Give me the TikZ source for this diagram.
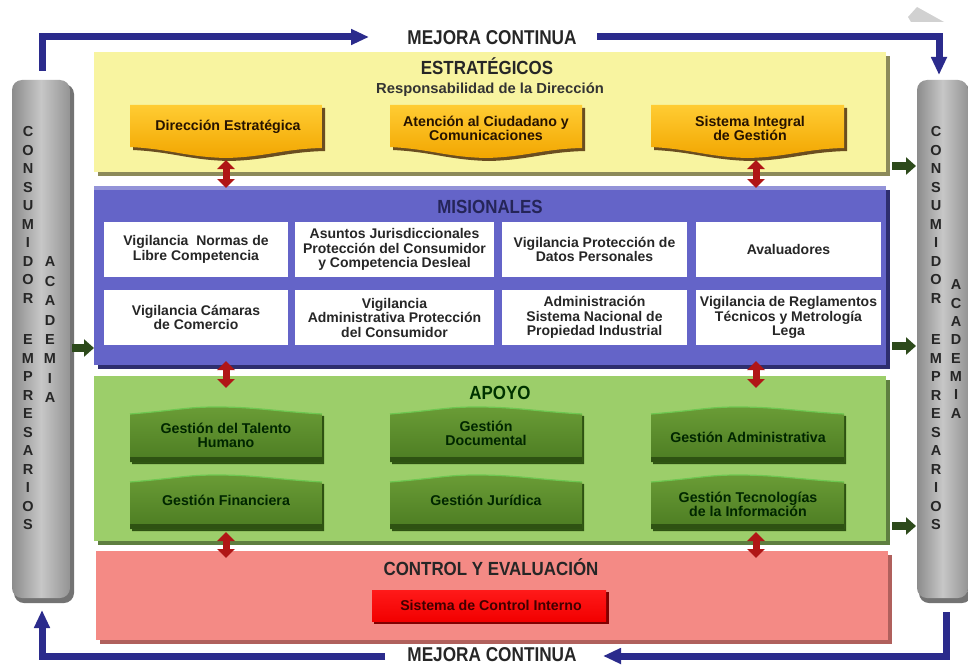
\documentclass[tikz,border=0pt]{standalone}
\usepackage{fontspec}
\setmainfont{Liberation Sans}
\usetikzlibrary{arrows.meta,shadows}
\definecolor{navyc}{HTML}{2B2B8C}
\definecolor{yelp}{HTML}{F8F4A0}
\definecolor{yelsh}{HTML}{8C8A5A}
\definecolor{bluep}{HTML}{6464C8}
\definecolor{bluesh}{HTML}{2E2E6E}
\definecolor{greenp}{HTML}{9CCE6A}
\definecolor{greensh}{HTML}{5E7E40}
\definecolor{pinkp}{HTML}{F48A85}
\definecolor{pinksh}{HTML}{B0605C}
\definecolor{dred}{HTML}{B01616}
\definecolor{darrow}{HTML}{2D4A1B}
\definecolor{orangeT}{HTML}{FFCC33}
\definecolor{orangeB}{HTML}{F2A600}
\definecolor{gbtnT}{HTML}{6A9C36}
\definecolor{gbtnB}{HTML}{4C7C22}
\definecolor{gbtnD}{HTML}{2E5212}
\newcommand\obtn[2]{%
  \fill[black!60!orange!70!black,opacity=.8,xshift=3pt,yshift=-3pt] (#1,105) -- (#2,105) -- (#2,148) .. controls ({#2-40},149) and ({(#1+#2)/2+40},157) .. ({(#1+#2)/2},158) .. controls ({(#1+#2)/2-40},157) and ({#1+40},149) .. (#1,147) -- cycle;
  \shade[top color=orangeT,bottom color=orangeB] (#1,105) -- (#2,105) -- (#2,148) .. controls ({#2-40},149) and ({(#1+#2)/2+40},157) .. ({(#1+#2)/2},158) .. controls ({(#1+#2)/2-40},157) and ({#1+40},149) .. (#1,147) -- cycle;}
\newcommand\gbtn[4]{%
  \fill[gbtnD,xshift=2pt,yshift=-2pt] (#1,#3) .. controls ({#1+50},{#3-4}) and ({(#1+#2)/2-40},{#3-7}) .. ({(#1+#2)/2-10},{#3-7}) .. controls ({(#1+#2)/2+30},{#3-7}) and ({#2-50},{#3-3}) .. (#2,#3) -- (#2,#4) -- (#1,#4) -- cycle;
  \shade[top color=gbtnT,bottom color=gbtnB] (#1,#3) .. controls ({#1+50},{#3-4}) and ({(#1+#2)/2-40},{#3-7}) .. ({(#1+#2)/2-10},{#3-7}) .. controls ({(#1+#2)/2+30},{#3-7}) and ({#2-50},{#3-3}) .. (#2,#3) -- (#2,#4) -- (#1,#4) -- cycle;
  \draw[green!30!gbtnT!80!white,line width=1.2pt] (#1,#3) .. controls ({#1+50},{#3-4}) and ({(#1+#2)/2-40},{#3-7}) .. ({(#1+#2)/2-10},{#3-7}) .. controls ({(#1+#2)/2+30},{#3-7}) and ({#2-50},{#3-3}) .. (#2,#3);
  \fill[gbtnD] (#1,{#4-5}) rectangle (#2,#4);}
\begin{document}
\begin{tikzpicture}[x=1pt,y=-1pt,
  navyline/.style={draw=navyc,line width=7pt,-{Triangle[width=15pt,length=18pt]}},
  redarr/.style={draw=dred,line width=7pt,{Triangle[width=17pt,length=9pt]}-{Triangle[width=17pt,length=9pt]}},
  grarr/.style={draw=darrow,line width=8pt,-{Triangle[width=17pt,length=10pt]}},
  panel/.style={rectangle,inner sep=0pt,minimum width=792pt},
  ttl/.style={font=\fontsize{19}{19}\selectfont\bfseries,inner sep=0pt},
  cell/.style={rectangle,fill=white,inner sep=0pt,minimum height=55pt,align=center,text=black!85,font=\fontsize{14}{14.5}\selectfont\bfseries},
  otext/.style={align=center,inner sep=0pt,text=black!70!orange!50!black,font=\fontsize{14.2}{14}\selectfont\bfseries},
  gtext/.style={align=center,inner sep=0pt,text=black!85!green,font=\fontsize{14.2}{14}\selectfont\bfseries},
  pl/.style={inner sep=0pt,text=black!85,font=\fontsize{14.5}{14.5}\selectfont\bfseries}]
\useasboundingbox (0,0) rectangle (968,666);
\fill[white] (0,0) rectangle (968,666);
% small grey artifact top right
\fill[black!18] (908,17) -- (917,7) -- (926,12) -- (944,22) -- (911,22) -- cycle;
% pillars
\fill[black!55,rounded corners=10pt] (14,84) rectangle (74,603);
\shade[left color=black!45,right color=black!42,middle color=black!22,rounded corners=10pt] (12,80) rectangle (70,598);
\fill[black!55,rounded corners=10pt] (919,84) rectangle (972,603);
\shade[left color=black!45,right color=black!42,middle color=black!22,rounded corners=10pt] (917,80) rectangle (968,598);
\foreach \l [count=\i from 0] in {C,O,N,S,U,M,I,D,O,R}{
  \node[pl] (lc\i) at (28,{132+18.45*\i}) {\l};
  \node[pl] (rc\i) at (936,{132+18.45*\i}) {\l};}
\foreach \l [count=\i from 0] in {E,M,P,R,E,S,A,R,I,O,S}{
  \node[pl] (le\i) at (28,{340+18.5*\i}) {\l};
  \node[pl] (re\i) at (936,{340+18.5*\i}) {\l};}
\foreach \l [count=\i from 0] in {A,C,A,D,E,M,I,A}{
  \node[pl] (la\i) at (50,{262+19.4*\i}) {\l};
  \node[pl] (ra\i) at (956,{285+18.3*\i}) {\l};}
% panels
\node[panel,fill=yelp,minimum height=120pt,general shadow={fill=yelsh,shadow xshift=4pt,shadow yshift=-4pt}] (est) at (490,112) {};
\node[panel,fill=bluep,minimum height=179pt,general shadow={fill=bluesh,shadow xshift=4pt,shadow yshift=-4pt}] (mis) at (490,275.5) {};
\fill[bluep!70!white] (94,186) rectangle (886,190);
\node[panel,fill=greenp,minimum height=165pt,general shadow={fill=greensh,shadow xshift=4pt,shadow yshift=-4pt}] (apo) at (490,458.5) {};
\node[panel,fill=pinkp,minimum height=89pt,general shadow={fill=pinksh,shadow xshift=4pt,shadow yshift=-4pt}] (ctl) at (492,595.5) {};
% titles
\node[ttl,text=black!85] (mejt) at (492,38) {\fontsize{20}{20}\selectfont\scalebox{0.86}[1]{MEJORA CONTINUA}};
\node[ttl,text=black!85] (estt) at (487,66) {\scalebox{0.89}[1]{ESTRATÉGICOS}};
\node[inner sep=0pt,text=black!80,font=\fontsize{14.5}{14.5}\selectfont\bfseries] (resp) at (490,90) {\scalebox{1.02}[1]{Responsabilidad de la Dirección}};
\node[ttl,text=bluesh!80!black] (mist) at (490,207) {\scalebox{0.89}[1]{MISIONALES}};
\node[ttl,text=black!80!green] (apot) at (500,393) {\scalebox{0.89}[1]{APOYO}};
\node[ttl,text=black!85] (ctlt) at (491,567) {\scalebox{0.89}[1]{CONTROL Y EVALUACIÓN}};
\node[ttl,text=black!85] (mejb) at (492,655) {\fontsize{20}{20}\selectfont\scalebox{0.86}[1]{MEJORA CONTINUA}};
% orange buttons
\obtn{130}{322}\obtn{390}{582}\obtn{651}{844}
\node[otext] (dir) at (228,127) {Dirección Estratégica};
\node[otext] (ate) at (486,128) {Atención al Ciudadano y\\Comunicaciones};
\node[otext] (sig) at (750,128) {Sistema Integral\\de Gestión};
% cells
\node[cell,minimum width=184pt] (m11) at (196,249.5) {Vigilancia\ \ Normas de\\Libre Competencia};
\node[cell,minimum width=199pt] (m12) at (394.5,249.5) {Asuntos Jurisdiccionales\\Protección del Consumidor\\y Competencia Desleal};
\node[cell,minimum width=185pt] (m13) at (594.5,249.5) {Vigilancia Protección de\\Datos Personales};
\node[cell,minimum width=185pt] (m14) at (788.5,249.5) {Avaluadores};
\node[cell,minimum width=184pt] (m21) at (196,317.5) {Vigilancia Cámaras\\de Comercio};
\node[cell,minimum width=199pt] (m22) at (394.5,317.5) {Vigilancia\\Administrativa Protección\\del Consumidor};
\node[cell,minimum width=185pt] (m23) at (594.5,317.5) {Administración\\Sistema Nacional de\\Propiedad Industrial};
\node[cell,minimum width=185pt] (m24) at (788.5,317.5) {Vigilancia de Reglamentos\\Técnicos y Metrología\\Lega};
% green buttons
\gbtn{130}{322}{414}{462}\gbtn{390}{582}{414}{462}\gbtn{651}{844}{414}{462}
\gbtn{130}{322}{482}{529}\gbtn{390}{582}{482}{529}\gbtn{651}{844}{482}{529}
\node[gtext] (g11) at (226,435) {Gestión del Talento\\Humano};
\node[gtext] (g12) at (486,433) {Gestión\\Documental};
\node[gtext] (g13) at (748,437) {Gestión Administrativa};
\node[gtext] (g21) at (226,500) {Gestión Financiera};
\node[gtext] (g22) at (486,500) {Gestión Jurídica};
\node[gtext] (g23) at (748,504) {Gestión Tecnologías\\de la Información};
% red button
\fill[black!50!red] (374,592) rectangle (609,624);
\shade[top color=red!90!white,bottom color=red!95!black] (372,590) rectangle (606,621);
\node[inner sep=0pt,text=black!75!red,font=\fontsize{14.2}{14.2}\selectfont\bfseries] (sci) at (491,605) {Sistema de Control Interno};
% red double arrows
\coordinate (r1a) at (226,160); \coordinate (r1b) at (226,188);
\coordinate (r2a) at (756,160); \coordinate (r2b) at (756,188);
\coordinate (r3a) at (226,361); \coordinate (r3b) at (226,388);
\coordinate (r4a) at (756,361); \coordinate (r4b) at (756,388);
\coordinate (r5a) at (226,532); \coordinate (r5b) at (226,558);
\coordinate (r6a) at (756,532); \coordinate (r6b) at (756,558);
\foreach \k in {1,...,6}{\draw[redarr] (r\k a) -- (r\k b);}
% dark green arrows
\coordinate (ga1) at (72,348); \coordinate (gb1) at (94,348);
\coordinate (ga2) at (892,166); \coordinate (gb2) at (916,166);
\coordinate (ga3) at (892,346); \coordinate (gb3) at (916,346);
\coordinate (ga4) at (892,526); \coordinate (gb4) at (916,526);
\foreach \k in {1,...,4}{\draw[grarr] (ga\k) -- (gb\k);}
% navy loop arrows
\coordinate (n1) at (42,71); \coordinate (n2) at (42,37); \coordinate (n3) at (369,37);
\draw[navyline] (n1) -- (n2) -- (n3);
\coordinate (n4) at (597,37); \coordinate (n5) at (939,37); \coordinate (n6) at (939,75);
\draw[navyline] (n4) -- (n5) -- (n6);
\coordinate (n7) at (946,612); \coordinate (n8) at (946,656); \coordinate (n9) at (603,656);
\draw[navyline] (n7) -- (n8) -- (n9);
\coordinate (n10) at (385,656); \coordinate (n11) at (42,656); \coordinate (n12) at (42,610);
\draw[navyline] (n10) -- (n11) -- (n12);
\end{tikzpicture}
\end{document}
